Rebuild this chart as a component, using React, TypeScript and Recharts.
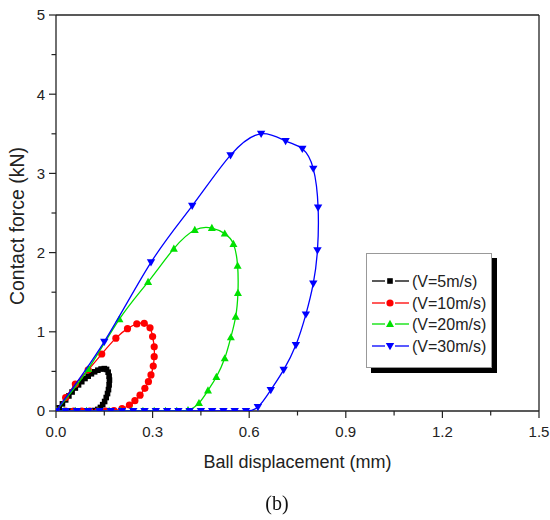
import { ReferenceLine, Scatter, ScatterChart, XAxis, YAxis } from "recharts";

const seriesNames = ["(V=5m/s)", "(V=10m/s)", "(V=20m/s)", "(V=30m/s)"];
const seriesColors = ["#000000", "#ff0000", "#00e000", "#0000ff"];
const seriesMarkers = ["square", "circle", "triangle", "triangleDown"];

const xTicks = [0, 0.15, 0.3, 0.45, 0.6, 0.75, 0.9, 1.05, 1.2, 1.35, 1.5];
const yTicks = [0, 0.5, 1, 1.5, 2, 2.5, 3, 3.5, 4, 4.5, 5];

// displacement (mm), contact force (kN)
const v5 = [
  { x: 0, y: 0 }, { x: 0.01, y: 0.04 }, { x: 0.02, y: 0.09 }, { x: 0.03, y: 0.14 },
  { x: 0.04, y: 0.19 }, { x: 0.05, y: 0.24 }, { x: 0.06, y: 0.29 }, { x: 0.07, y: 0.33 },
  { x: 0.08, y: 0.37 }, { x: 0.09, y: 0.41 }, { x: 0.1, y: 0.44 }, { x: 0.11, y: 0.47 },
  { x: 0.12, y: 0.495 }, { x: 0.13, y: 0.515 }, { x: 0.14, y: 0.53 }, { x: 0.15, y: 0.535 },
  { x: 0.157, y: 0.525 }, { x: 0.162, y: 0.49 }, { x: 0.165, y: 0.44 }, { x: 0.166, y: 0.39 },
  { x: 0.165, y: 0.33 }, { x: 0.163, y: 0.27 }, { x: 0.16, y: 0.22 }, { x: 0.156, y: 0.17 },
  { x: 0.151, y: 0.12 }, { x: 0.145, y: 0.08 }, { x: 0.138, y: 0.045 }, { x: 0.13, y: 0.02 },
  { x: 0.12, y: 0.006 }, { x: 0.11, y: 0 }, { x: 0.095, y: 0 }, { x: 0.08, y: 0 },
  { x: 0.065, y: 0 }, { x: 0.05, y: 0 }, { x: 0.035, y: 0 }, { x: 0.02, y: 0 }, { x: 0, y: 0 },
];

const v10 = [
  { x: 0, y: 0 }, { x: 0.03, y: 0.17 }, { x: 0.06, y: 0.34 }, { x: 0.1, y: 0.52 },
  { x: 0.142, y: 0.72 }, { x: 0.186, y: 0.92 }, { x: 0.222, y: 1.04 }, { x: 0.251, y: 1.1 },
  { x: 0.274, y: 1.107 }, { x: 0.292, y: 1.05 }, { x: 0.3, y: 0.94 }, { x: 0.305, y: 0.81 },
  { x: 0.305, y: 0.686 }, { x: 0.302, y: 0.568 }, { x: 0.295, y: 0.455 }, { x: 0.287, y: 0.37 },
  { x: 0.276, y: 0.286 }, { x: 0.261, y: 0.2 }, { x: 0.245, y: 0.13 }, { x: 0.228, y: 0.076 },
  { x: 0.205, y: 0.03 }, { x: 0.18, y: 0.006 }, { x: 0.155, y: 0 }, { x: 0.13, y: 0 },
  { x: 0.105, y: 0 }, { x: 0.08, y: 0 }, { x: 0.055, y: 0 }, { x: 0.03, y: 0 }, { x: 0, y: 0 },
];

const v20 = [
  { x: 0, y: 0 }, { x: 0.1, y: 0.53 }, { x: 0.197, y: 1.16 }, { x: 0.286, y: 1.63 },
  { x: 0.366, y: 2.05 }, { x: 0.431, y: 2.285 }, { x: 0.484, y: 2.31 }, { x: 0.524, y: 2.24 },
  { x: 0.551, y: 2.11 }, { x: 0.564, y: 1.835 }, { x: 0.565, y: 1.49 }, { x: 0.558, y: 1.19 },
  { x: 0.543, y: 0.93 }, { x: 0.524, y: 0.665 }, { x: 0.498, y: 0.43 }, { x: 0.472, y: 0.26 },
  { x: 0.444, y: 0.1 }, { x: 0.41, y: 0.01 }, { x: 0.375, y: 0 }, { x: 0.34, y: 0 },
  { x: 0.305, y: 0 }, { x: 0.27, y: 0 }, { x: 0.235, y: 0 }, { x: 0.2, y: 0 },
  { x: 0.165, y: 0 }, { x: 0.13, y: 0 }, { x: 0.095, y: 0 }, { x: 0.06, y: 0 },
  { x: 0.025, y: 0 }, { x: 0, y: 0 },
];

const v30 = [
  { x: 0, y: 0 }, { x: 0.15, y: 0.875 }, { x: 0.295, y: 1.877 }, { x: 0.423, y: 2.59 },
  { x: 0.542, y: 3.23 }, { x: 0.637, y: 3.5 }, { x: 0.713, y: 3.41 }, { x: 0.765, y: 3.31 },
  { x: 0.799, y: 3.06 }, { x: 0.814, y: 2.57 }, { x: 0.812, y: 2.03 }, { x: 0.799, y: 1.61 },
  { x: 0.776, y: 1.22 }, { x: 0.745, y: 0.833 }, { x: 0.707, y: 0.52 }, { x: 0.667, y: 0.265 },
  { x: 0.627, y: 0.05 }, { x: 0.59, y: 0 }, { x: 0.555, y: 0 }, { x: 0.52, y: 0 },
  { x: 0.485, y: 0 }, { x: 0.45, y: 0 }, { x: 0.415, y: 0 }, { x: 0.38, y: 0 },
  { x: 0.345, y: 0 }, { x: 0.31, y: 0 }, { x: 0.275, y: 0 }, { x: 0.24, y: 0 },
  { x: 0.205, y: 0 }, { x: 0.17, y: 0 }, { x: 0.135, y: 0 }, { x: 0.1, y: 0 },
  { x: 0.065, y: 0 }, { x: 0.03, y: 0 }, { x: 0, y: 0 },
];

const seriesData = [v5, v10, v20, v30];

const FONT = "Arial, 'Liberation Sans', sans-serif";

function Marker({ cx, cy, kind, color }: any) {
  if (cx == null || cy == null) return null;
  if (kind === "square") return <rect x={cx - 2.8} y={cy - 2.8} width={5.6} height={5.6} fill={color} />;
  if (kind === "circle") return <circle cx={cx} cy={cy} r={3.6} fill={color} />;
  if (kind === "triangle")
    return <polygon points={`${cx},${cy - 4.2} ${cx - 4},${cy + 3} ${cx + 4},${cy + 3}`} fill={color} />;
  return <polygon points={`${cx},${cy + 4.2} ${cx - 4.2},${cy - 3} ${cx + 4.2},${cy - 3}`} fill={color} />;
}

function XTick({ x, y, payload }: any) {
  const v = payload.value;
  const major = Math.abs(v / 0.3 - Math.round(v / 0.3)) < 1e-6;
  return (
    <g>
      <line x1={x} x2={x} y1={y} y2={y + (major ? 7 : 4.5)} stroke="#222" strokeWidth={1.2} />
      {major && (
        <text x={x} y={y + 26} textAnchor="middle" fontSize={15} fontFamily={FONT} fill="#222">
          {v.toFixed(1)}
        </text>
      )}
    </g>
  );
}

function YTick({ x, y, payload }: any) {
  const v = payload.value;
  const major = Number.isInteger(v);
  return (
    <g>
      <line x1={x - (major ? 7 : 4.5)} x2={x} y1={y} y2={y} stroke="#222" strokeWidth={1.2} />
      {major && (
        <text x={x - 11} y={y + 5.4} textAnchor="end" fontSize={15} fontFamily={FONT} fill="#222">
          {v}
        </text>
      )}
    </g>
  );
}

function XTitle({ viewBox }: any) {
  const { x, y, width } = viewBox;
  return (
    <text x={x + width / 2} y={y + 57} textAnchor="middle" fontSize={18} fontFamily={FONT} fill="#222">
      Ball displacement (mm)
    </text>
  );
}

function YTitle({ viewBox }: any) {
  const cx = 24;
  const cy = viewBox.y + viewBox.height / 2 + 13;
  return (
    <text
      x={cx}
      y={cy}
      transform={`rotate(-90, ${cx}, ${cy})`}
      textAnchor="middle"
      fontSize={19.5}
      fontFamily={FONT}
      fill="#222"
    >
      Contact force (kN)
    </text>
  );
}

function LegendBox() {
  const rows = [28, 50, 71, 93];
  return (
    <svg width={134} height={124} style={{ position: "absolute", left: 366, top: 253 }}>
      <rect x={5} y={5} width={126} height={115} fill="#000" />
      <rect x={0.5} y={0.5} width={125} height={114} fill="#fff" stroke="#999" />
      {seriesNames.map((name, i) => (
        <g key={name}>
          <line x1={6} x2={19} y1={rows[i]} y2={rows[i]} stroke={seriesColors[i]} strokeWidth={1.3} />
          <line x1={29} x2={43} y1={rows[i]} y2={rows[i]} stroke={seriesColors[i]} strokeWidth={1.3} />
          <Marker cx={24} cy={rows[i]} kind={seriesMarkers[i]} color={seriesColors[i]} />
          <text x={46} y={rows[i] + 6} fontSize={16} fontFamily={FONT} fill="#222">
            {name}
          </text>
        </g>
      ))}
    </svg>
  );
}

export default function App() {
  return (
    <div style={{ position: "fixed", left: 0, top: 0, width: 550, height: 520, background: "#fff" }}>
      <ScatterChart width={550} height={480} margin={{ top: 15, right: 11, left: 10, bottom: 9 }}>
        <XAxis
          type="number"
          dataKey="x"
          domain={[0, 1.5]}
          ticks={xTicks}
          interval={0}
          tickSize={0}
          tickMargin={0}
          tickLine={false}
          tick={<XTick />}
          height={60}
          axisLine={{ stroke: "#222", strokeWidth: 1.3 }}
          label={<XTitle />}
          allowDataOverflow
        />
        <YAxis
          type="number"
          dataKey="y"
          domain={[0, 5]}
          ticks={yTicks}
          interval={0}
          tickSize={0}
          tickMargin={0}
          tickLine={false}
          tick={<YTick />}
          width={46}
          axisLine={{ stroke: "#222", strokeWidth: 1.3 }}
          label={<YTitle />}
          allowDataOverflow
        />
        <ReferenceLine y={5} stroke="#222" strokeWidth={1.3} />
        <ReferenceLine x={1.5} stroke="#222" strokeWidth={1.3} />
        {seriesData.map((data, i) => (
          <Scatter
            key={seriesNames[i]}
            name={seriesNames[i]}
            data={data}
            line={{ stroke: seriesColors[i], strokeWidth: 1.3 }}
            lineType="joint"
            lineJointType="natural"
            shape={(p: any) => <Marker cx={p.cx} cy={p.cy} kind={seriesMarkers[i]} color={seriesColors[i]} />}
            isAnimationActive={false}
          />
        ))}
      </ScatterChart>
      <LegendBox />
      <div
        style={{
          position: "absolute",
          left: 0,
          top: 492,
          width: 554,
          textAlign: "center",
          fontFamily: "'Times New Roman', 'Liberation Serif', serif",
          fontSize: 20,
          color: "#111",
        }}
      >
        (b)
      </div>
    </div>
  );
}
